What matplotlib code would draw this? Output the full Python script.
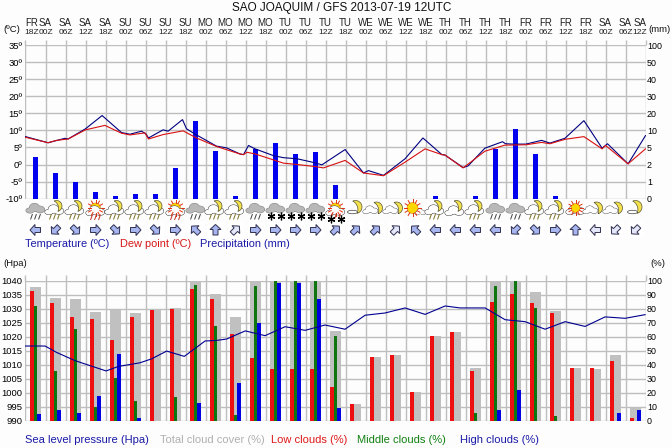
import numpy as np
import matplotlib
matplotlib.use("Agg")
import matplotlib.pyplot as plt
from matplotlib.patches import Ellipse, Polygon, Rectangle, Circle

plt.rcParams['font.family'] = ['Liberation Sans', 'DejaVu Sans']

TITLE = "SAO JOAQUIM / GFS 2013-07-19 12UTC"
days = ["FR","SA","SA","SA","SA","SU","SU","SU","SU","MO","MO","MO","MO","TU","TU","TU","TU",
        "WE","WE","WE","WE","TH","TH","TH","TH","FR","FR","FR","FR","SA","SA","SA"]
hours = ["18Z","00Z","06Z","12Z"] * 8

# Temperature / dew point: step position, degrees C
temp_u = [0,1.13,1.97,2.13,3.0,3.83,4.8,5.22,5.8,6.02,6.15,6.88,7.13,7.85,8.05,8.55,9.55,10.05,10.72,
          10.9,11.15,11.48,12.4,12.9,13.57,14.48,14.82,15.98,16.9,17.15,17.9,18.98,19.87,20.82,20.97,
          21.88,22.13,22.97,23.85,24.0,24.38,25.02,25.8,26.22,26.97,27.92,28.83,29.1,30.13,31]
temp_c = [8.2,6.4,7.7,7.5,10.5,14.4,9.4,8.9,9.8,9.0,7.8,10.2,9.8,13.2,10.5,8.7,5.4,4.9,3.1,
          2.9,5.6,4.6,2.6,2.0,1.7,0.5,-0.1,4.4,-2.5,-1.8,-3.2,1.7,7.8,2.9,2.8,
          -0.9,-0.4,4.8,6.7,6.1,6.0,6.0,7.1,6.3,7.7,12.9,4.8,6.1,0.2,8.5]
dew_u = [0,1.13,1.55,2.13,3.0,3.97,4.8,5.22,5.97,6.15,6.88,7.88,8.55,9.55,10.72,
         10.9,11.07,11.48,12.48,12.9,13.57,14.48,14.9,15.98,16.9,17.9,18.98,19.98,20.82,20.97,
         21.88,22.97,23.97,25.02,25.8,26.22,26.97,27.92,28.83,29.0,30.13,31]
dew_c = [8.0,6.4,7.1,7.5,10.2,11.5,9.2,8.7,9.3,7.5,8.8,9.9,7.8,5.3,3.1,
         2.9,3.6,3.1,1.2,0.4,0.0,-0.6,-1.0,1.2,-2.5,-3.3,0.7,4.6,2.9,2.8,
         -1.0,3.9,5.7,5.8,6.5,6.1,7.4,8.2,4.6,5.6,0.2,4.6]
# Precipitation per interval, mm
precip = [3.4,1.5,0.95,0.4,0.12,0.24,0.24,1.8,15.3,4.4,0.12,4.7,6.2,3.8,4.2,0.8,
          0,0,0,0,0.12,0,0.12,4.7,10.6,3.8,0.12,0,0,0,0]

# Pressure
pres_u = [0,0.98,1.56,2.47,3.14,4.03,4.64,5.72,6.3,7.06,7.94,8.98,9.56,10.06,10.5,
          10.99,11.98,12.98,13.98,14.98,15.98,16.98,17.98,18.98,19.98,20.98,21.73,22.98,
          23.98,24.98,25.98,26.98,27.98,28.98,29.98,30.98]
pres_h = [1016.6,1016.6,1014.3,1011.4,1009.8,1007.7,1009.3,1010.6,1012,1014.8,1012.9,1018.4,1018.6,1019.1,1020.5,
          1022,1020.3,1023.5,1022.2,1024.1,1022.6,1027.6,1028.4,1030.2,1027.9,1030.9,1030.2,1030.2,
          1026,1025.3,1022.6,1025.3,1023.6,1027,1026.5,1027.8]
# Clouds, %
total = [95.7,87.8,87,77.8,79,77,79,80.4,99,90.7,74,99,100,100,100,64,12,45.6,47,20.5,60.6,63,37.7,99,100,92,78,37.7,37,47,9]
low   = [92.8,84,74,72.8,57.8,74,79,80,94,87,62,45,37,37,37,24,12,45.6,47,20.5,60.6,63,35.6,85,90.7,84,77,37.7,37.7,42.7,2]
mid   = [82,35.5,65.6,9.8,30.5,14,0,17,97,67.8,4,96,100,100,100,60.6,0,0,0,0,0,0,5.5,96,100,80.7,3,0,0,0,0]
high  = [4.8,7.6,5.5,17.7,47.7,2,0,0,12.6,0,27,70,98,98,87,9,0,0,0,0,0,0,0,7.6,22,0,0,0,0,5.5,7.6]

icons = ["r","m","m","s","m","m","m","s","r","m","m","r","n","n","n","S",
         "M","c","c","Y","m","k","m","r","r","m","m","y","c","c","M"]
wind_deg = [180,225,315,0,315,0,315,0,135,90,45,0,0,0,0,45,45,45,45,135,180,180,180,180,225,315,0,90,180,225,225]
wind_pale = [0,0,0,0,0,0,0,0,0,0,1,0,0,0,0,0,0,0,1,0,0,0,0,0,0,0,0,0,1,1,1]

GRID = "#BEBEBE"
W, H = 672, 448
BG = "#FDFDFD"
fig = plt.figure(figsize=(W/100, H/100), dpi=100, facecolor=BG)

def axes_px(left, top, right, bottom, z):
    a = fig.add_axes([left/W, 1-bottom/H, (right-left)/W, (bottom-top)/H], zorder=z)
    a.set_xlim(0, 31)
    for s in a.spines.values():
        s.set_visible(False)
    return a

X0, X1 = 25.5, 645.5
steps = np.arange(len(days))
mids = np.arange(len(precip)) + 0.5
TICK = 6.4

# Upper panel
ax_p = axes_px(X0, 45.5, X1, 198.5, 1)
ax_p.set_facecolor(BG)
pk = [0,1,2,5,10,20,30,40,50,100]
pp = np.arange(len(pk), dtype=float)
ax_p.set_yscale('function', functions=(lambda v: np.interp(v, pk, pp),
                                       lambda p: np.interp(p, pp, pk)))
ax_p.set_ylim(0, 100)
ax_p.set_yticks(pk, [str(v) for v in pk])
ax_p.minorticks_off()
ax_p.yaxis.tick_right()
ax_p.tick_params(axis='y', length=0, labelsize=TICK, pad=1)
ax_p.set_xticks(steps)
ax_p.set_xticklabels([])
ax_p.tick_params(axis='x', top=True, bottom=False, length=3.8, width=1, color=GRID)
ax_p.grid(True, color=GRID, lw=1)
ax_p.set_axisbelow(True)
ax_p.bar(mids, precip, width=0.25, color="#0000EE", zorder=2)

ax_t = axes_px(X0, 45.5, X1, 198.5, 2)
ax_t.patch.set_visible(False)
ax_t.set_ylim(-10, 35)
ax_t.set_yticks(np.arange(-10, 36, 5), [f"{v}º" for v in range(-10, 36, 5)])
ax_t.tick_params(axis='y', length=0, labelsize=TICK+0.4, pad=2)
ax_t.set_xticks([])
ax_t.plot(temp_u, temp_c, color="#000080", lw=0.8)
ax_t.plot(dew_u, dew_c, color="#D81010", lw=0.8)

# Lower panel
ax_c = axes_px(X0, 280.5, X1, 420.5, 1)
ax_c.set_facecolor(BG)
ax_c.set_ylim(0, 100)
ax_c.set_yticks(np.arange(0, 101, 10))
ax_c.yaxis.tick_right()
ax_c.tick_params(axis='y', length=0, labelsize=TICK, pad=1)
ax_c.set_xticks(steps)
ax_c.set_xticklabels([])
ax_c.tick_params(axis='x', top=True, bottom=False, length=4.5, width=1, color=GRID)
ax_c.grid(True, color=GRID, lw=1)
ax_c.set_axisbelow(True)
bw = 0.175
ax_c.bar(mids, total, width=0.55, color="#C0C0C0", zorder=2)
ax_c.bar(mids-bw, low, width=bw, color="#EE1010", zorder=3)
ax_c.bar(mids, mid, width=bw, color="#0F760F", zorder=3)
ax_c.bar(mids+bw, high, width=bw, color="#0000E0", zorder=3)

ax_h = axes_px(X0, 280.5, X1, 420.5, 2)
ax_h.patch.set_visible(False)
ax_h.set_ylim(990, 1040)
ax_h.set_yticks(np.arange(990, 1041, 5))
ax_h.tick_params(axis='y', length=0, labelsize=TICK+0.4, pad=2)
ax_h.set_xticks([])
ax_h.plot(pres_u, pres_h, color="#000090", lw=0.8)

# Overlay in pixels for texts and pictograms
ov = fig.add_axes([0, 0, 1, 1], zorder=5)
ov.set_xlim(0, W); ov.set_ylim(H, 0); ov.axis('off')

def T(x, y, s, c="#101010", size=7.3, ha='center', va='center'):
    ov.text(x, y, s, color=c, fontsize=size, ha=ha, va=va)

T(342, 8, TITLE, size=8.45)
for i, (d, h) in enumerate(zip(days, hours)):
    x = X0 + 20*i
    if i == 0: x += 6
    if i == 31: x -= 5.5
    T(x, 23, d, c="#202020", size=7.0)
    T(x, 32.5, h, c="#202020", size=6.1)
T(3, 30, "(ºC)", ha='left', size=6.8)
T(648, 30, "(mm)", ha='left', size=6.8)
T(3, 264, "(Hpa)", ha='left', size=6.8)
T(650, 264, "(%)", ha='left', size=6.8)

TOPL, LOWL = 7.9, 8.0
T(25, 244, "Temperature (ºC)", c="#1A1AA8", ha='left', size=TOPL)
T(120, 244, "Dew point (ºC)", c="#D81818", ha='left', size=TOPL)
T(200, 244, "Precipitation (mm)", c="#1A1AA8", ha='left', size=TOPL)
T(25, 440, "Sea level pressure (Hpa)", c="#1A1AA8", ha='left', size=LOWL)
T(160, 440, "Total cloud cover (%)", c="#B0B0B0", ha='left', size=LOWL)
T(271, 440, "Low clouds (%)", c="#E01818", ha='left', size=LOWL)
T(357, 440, "Middle clouds (%)", c="#108010", ha='left', size=LOWL)
T(460, 440, "High clouds (%)", c="#1A1AA8", ha='left', size=LOWL)

def cloud(cx, cy, fill, edge, scale=1.0):
    parts = [(-5.5, 2, 8, 5), (-1, -1, 10, 8), (4.5, 1, 9, 6.5)]
    for dx, dy, w, h in parts:
        ov.add_patch(Ellipse((cx+dx*scale, cy+dy*scale), (w+1)*scale, (h+1)*scale, fc=edge, ec='none'))
    for dx, dy, w, h in parts:
        ov.add_patch(Ellipse((cx+dx*scale, cy+dy*scale), w*scale, h*scale, fc=fill, ec='none'))

def moon(cx, cy, r=5.5):
    a = np.deg2rad(np.linspace(-115, 75, 24))
    ox, oy = cx+r*np.cos(a), cy+r*np.sin(a)
    t = np.linspace(0, 1, 24)
    chx = ox[0]+(ox[-1]-ox[0])*t
    chy = oy[0]+(oy[-1]-oy[0])*t
    ix, iy = chx+0.35*(ox-chx), chy+0.35*(oy-chy)
    ov.add_patch(Polygon(np.r_[np.c_[ox, oy], np.c_[ix, iy][::-1]], fc="#F4E04A", ec="#555533", lw=0.5))

def sun(cx, cy, r=5.5, rays=True):
    if rays:
        for a in np.arange(0, 2*np.pi, np.pi/6):
            ov.plot([cx+r*np.cos(a), cx+(r+3)*np.cos(a)], [cy+r*np.sin(a), cy+(r+3)*np.sin(a)],
                    color="#E03010", lw=0.7)
    ov.add_patch(Circle((cx, cy), r, fc="#FFD800", ec="#E08010", lw=0.4))

def rain(cx, cy, c):
    for dx in (-4, 0, 4):
        ov.plot([cx+dx+0.8, cx+dx-0.8], [cy, cy+4.5], color=c, lw=0.7)

def stars(cx, cy):
    ov.plot([cx-5, cx+5], [cy, cy], ls='none', marker=(6, 2, 0), ms=5.5, mew=0.9, color="black")

for i, k in enumerate(icons):
    x = X0 + 10 + 20*i
    if k == "r" or k == "n":
        cloud(x, 208.5, "#B8B8B8", "#808080")
        rain(x, 214.5, "#404040") if k == "r" else stars(x, 216.5)
    elif k == "m":
        cloud(x-1, 210, "white", "#404040")
        moon(x+1, 206, 5.5)
        rain(x-1, 214.5, "#807020")
    elif k == "s" or k == "S":
        sun(x, 208, 5)
        cloud(x, 211, "white", "#404040")
        if k == "s":
            rain(x, 215, "#C03020")
        else:
            rain(x, 214, "#C03020")
            stars(x, 219.5)
    elif k == "c":
        cloud(x-5, 210, "white", "#404040", 0.8)
        moon(x+1, 208, 6)
    elif k == "k":
        cloud(x-1, 211, "white", "#404040")
        moon(x+1, 206, 5.5)
    elif k == "M":
        ov.add_patch(Ellipse((x-3, 212), 10, 3.5, fc="white", ec="#404040", lw=0.5))
        moon(x, 207, 6.5)
    elif k == "Y":
        sun(x-3, 208, 5.5)
        cloud(x+5, 212, "white", "#404040", 0.6)
    elif k == "y":
        cloud(x, 210, "white", "#404040")
        sun(x, 208, 4.5)

# Wind arrows
shape = np.array([[5.5,0],[0.5,5.5],[0.5,2.5],[-5,2.5],[-5,-2.5],[0.5,-2.5],[0.5,-5.5]])
for i, (deg, pale) in enumerate(zip(wind_deg, wind_pale)):
    x = X0 + 10 + 20*i
    a = np.deg2rad(deg)
    R = np.array([[np.cos(a), np.sin(a)], [-np.sin(a), np.cos(a)]])
    pts = shape @ R.T + [x, 230]
    ov.add_patch(Rectangle((x-8, 222), 16, 16, fc="white", ec='none'))
    ov.add_patch(Polygon(pts, fc="#E4E8FA" if pale else "#A8B6F0", ec="#303050", lw=0.7))

fig.savefig("out.png", dpi=100, facecolor=BG)
